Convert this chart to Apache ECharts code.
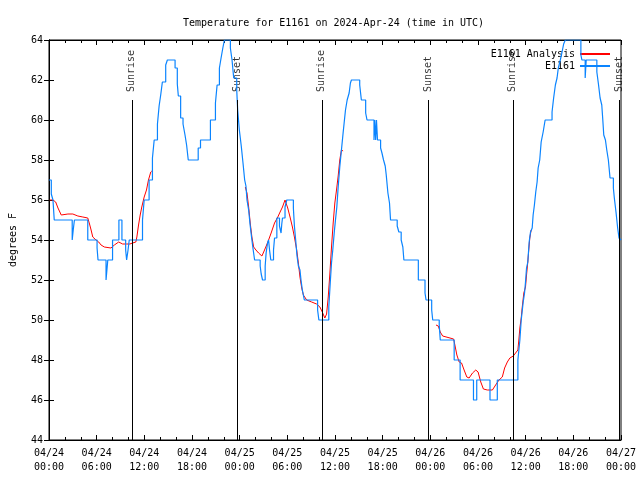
<!DOCTYPE html>
<html><head><meta charset="utf-8">
<script src="https://cdn.jsdelivr.net/npm/echarts@6/dist/echarts.min.js"></script>
<style>html,body{margin:0;padding:0;background:#fff}#c{width:640px;height:480px}</style>
</head><body><div id="c"></div><script>
// Hours since 2024-04-24 00:00 UTC
const blueTimes = [0.0,0.29,0.5,0.66,2.92,3.05,3.2,4.88,6.05,6.17,7.18,7.4,8.0,8.8,9.18,9.65,9.77,9.95,10.1,11.77,11.98,12.6,13.02,13.24,13.65,13.86,14.06,14.27,14.69,14.9,15.87,16.15,16.28,16.57,16.87,17.12,17.32,17.53,18.78,19.07,20.32,20.95,21.16,21.45,21.66,21.88,22.08,22.83,23.04,23.25,23.63,23.75,23.96,24.2,24.42,24.63,24.79,24.92,25.13,25.33,25.54,25.67,25.88,26.58,26.71,26.88,27.21,27.33,27.51,27.64,27.76,27.92,28.26,28.39,28.68,29.01,29.21,29.3,29.39,29.71,29.93,30.76,30.89,31.05,31.22,31.39,31.59,31.72,31.89,32.14,33.81,33.97,35.22,35.4,35.56,35.72,35.9,36.06,36.23,36.4,36.6,36.81,37.02,37.15,37.32,37.53,37.78,37.94,38.07,39.11,39.32,39.86,40.03,40.91,41.0,41.12,41.22,41.35,41.74,41.91,42.11,42.32,42.45,42.66,42.86,42.99,43.83,44.04,44.33,44.54,44.67,46.49,47.33,47.46,48.17,48.3,49.12,49.25,51.0,51.75,53.43,53.84,55.51,56.43,59.02,59.27,59.44,59.69,59.86,59.98,60.11,60.27,60.44,60.61,60.82,60.94,61.1,61.27,61.44,61.57,61.77,61.95,62.2,62.45,63.32,63.52,63.74,63.95,64.11,64.36,64.58,64.78,64.99,66.95,67.08,67.49,67.62,68.96,69.16,69.37,69.58,69.71,69.83,70.04,70.21,70.41,70.62,71.04,71.16,71.37,71.58,71.75,72.0];
const blueTemps = [57,56.3,56,55,54,54.5,55,54,53.6,53,52,53,54,55,54,53.5,53,53.5,54,55,56,57,58.1,59,59.8,60.7,61.25,61.9,62.75,63,62.6,61.8,61.2,60.1,59.8,59.25,58.75,58,58.6,59,60,60.85,61.75,62.6,63.1,63.6,64,63.6,63,62.1,61.5,60.5,59.5,58.7,57.85,57,56.7,56,55.5,54.7,54,53.6,53,52.7,52.3,52,52.7,53.35,53.85,54,53.5,53,53.5,54.1,55.1,54.7,54.35,54.8,55.1,55.65,56,55.6,54.7,54,53.2,52.7,52.5,52,51.5,51,50.5,50,50.65,51.85,52.85,53.5,54.35,55,55.65,56.65,57.65,58.5,59.35,59.85,60.5,61,61.35,61.85,62,61.75,61,60.35,60,59,60,59,60,59,58.6,58.35,58,57.7,57.25,56.35,55.85,55,54.7,54.4,54,53.65,53,52,51.35,51,50.5,50,49.75,49,48,47,46,47,46,47,48,49,50,50.9,51.35,51.9,52.6,52.9,53.9,54.4,54.6,55.25,55.75,56.4,56.9,57.6,58,58.9,59.4,60,60.4,61.1,61.75,62.1,62.6,63,63.4,63.8,64,63.25,63,62.1,63,62.4,61.8,61.1,60.75,60,59.25,59,58.5,58,57.1,56.6,56.1,55.4,54.6,54.1,54];

const redTimes = [0.09,0.5,0.84,1.13,1.54,1.75,2.38,3.0,3.63,4.26,4.88,5.1,5.3,5.51,5.92,6.26,6.55,6.97,7.8,8.23,8.77,9.27,9.77,10.18,10.52,10.93,11.06,11.27,11.48,11.68,11.98,12.27,12.52,12.81,12.94,
  18.0,
  24.71,24.92,25.13,25.33,25.54,25.76,26.05,26.38,26.8,27.13,27.55,27.96,28.39,28.8,29.09,29.39,29.71,30.05,30.34,30.64,30.89,31.18,31.39,31.59,31.81,32.02,32.43,33.06,33.68,34.1,34.4,34.72,34.94,35.15,35.35,35.56,35.77,35.98,36.19,36.4,36.6,36.81,37.02,
  42.0,
  48.71,49.0,49.25,49.55,49.75,50.93,51.09,51.34,51.63,51.93,52.25,52.59,52.88,53.31,53.72,54.01,54.35,54.68,55.18,55.81,56.22,56.64,57.06,57.35,57.69,58.01,58.44,58.73,59.02,59.14,59.27,59.44,59.57,59.77,59.98,60.11,60.27,60.39,60.52,60.69];
const redTemps = [56.0,56.0,55.9,55.6,55.25,55.25,55.3,55.3,55.2,55.15,55.1,54.8,54.5,54.15,54.0,53.9,53.75,53.65,53.6,53.75,53.9,53.8,53.8,53.8,53.85,53.9,54.15,54.75,55.25,55.65,56.15,56.5,57.0,57.4,57.45,
  null,
  56.65,56.35,55.65,54.85,54.15,53.65,53.5,53.35,53.2,53.5,53.9,54.35,54.85,55.15,55.4,55.65,56.0,55.6,55.15,54.65,54.15,53.5,52.85,52.15,51.6,51.25,51.0,50.9,50.8,50.65,50.4,50.1,50.3,51.15,52.3,53.65,54.85,55.85,56.5,57.2,58.0,58.5,58.45,
  null,
  49.75,49.7,49.4,49.2,49.1,49.05,48.75,48.25,47.9,47.85,47.5,47.15,47.1,47.35,47.5,47.4,46.9,46.55,46.5,46.5,46.75,47.0,47.15,47.6,47.9,48.1,48.2,48.35,48.5,49.0,49.6,50.1,50.65,51.35,51.65,52.25,52.9,53.5,54.1,54.5];

const sunTimes = [10.43,23.71,34.35,47.75,58.39,71.79];
const sunLabels = ['Sunrise','Sunset','Sunrise','Sunset','Sunrise','Sunset'];
const xTickLabels = ['04/24\n00:00','04/24\n06:00','04/24\n12:00','04/24\n18:00','04/25\n00:00','04/25\n06:00','04/25\n12:00','04/25\n18:00','04/26\n00:00','04/26\n06:00','04/26\n12:00','04/26\n18:00','04/27\n00:00'];

const FONT = 'DejaVu Sans Mono';
const blueData = blueTimes.map((t,i)=>[t, blueTemps[i]]);
const redData = redTimes.map((t,i)=>[t, redTemps[i]===null ? '-' : redTemps[i]]);

const xBase = {
  type:'value', min:0, max:72, interval:6,
  axisLine:{show:true, lineStyle:{color:'#000', width:1}},
  axisTick:{show:true, inside:true, length:5, lineStyle:{color:'#000'}},
  minorTick:{show:true, splitNumber:3, length:3, lineStyle:{color:'#000'}},
  splitLine:{show:false}, minorSplitLine:{show:false}
};
const yBase = {
  type:'value', min:44, max:64, interval:2,
  axisLine:{show:true, lineStyle:{color:'#000', width:1}},
  axisTick:{show:true, inside:true, length:5, lineStyle:{color:'#000'}},
  splitLine:{show:false}
};

const chart = echarts.init(document.getElementById('c'), null, {renderer:'canvas'});
chart.setOption({
  animation:false,
  backgroundColor:'#fff',
  textStyle:{fontFamily:FONT},
  title:{text:'Temperature for E1161 on 2024-Apr-24 (time in UTC)', left:178, top:13,
    textStyle:{fontFamily:FONT, fontSize:10, fontWeight:'normal', color:'#000'}},
  grid:{left:46, right:19, top:40, bottom:40, show:true, borderColor:'#000', borderWidth:1, backgroundColor:'transparent'},
  legend:{right:24, top:44, orient:'vertical', align:'right', itemWidth:30, itemHeight:10, itemGap:2,
    itemStyle:{opacity:0, borderWidth:0},
    textStyle:{fontFamily:FONT, fontSize:10, color:'#000'}, data:['E1161 Analysis','E1161']},
  xAxis:[
    Object.assign({}, xBase, {position:'bottom',
      axisLabel:{show:true, margin:6, color:'#000', fontFamily:FONT, fontSize:10, lineHeight:14,
        formatter:(v)=>xTickLabels[Math.round(v/6)]}}),
    Object.assign({}, xBase, {position:'top', axisLabel:{show:false}})
  ],
  yAxis:[
    Object.assign({}, yBase, {position:'left', name:'degrees F', nameLocation:'middle', nameGap:31,
      nameTextStyle:{fontFamily:FONT, fontSize:10, color:'#000'},
      axisLabel:{show:true, margin:6, color:'#000', fontFamily:FONT, fontSize:10}}),
    Object.assign({}, yBase, {position:'right', axisLabel:{show:false}})
  ],
  series:[
    {
      name:'E1161 Analysis', type:'line', data:redData, xAxisIndex:0, yAxisIndex:0,
      showSymbol:false, symbol:'none', connectNulls:false, z:3,
      lineStyle:{color:'#ff0000', width:1}, itemStyle:{color:'#ff0000'}
    },
    {
      name:'E1161', type:'line', step:'end', data:blueData, xAxisIndex:0, yAxisIndex:0,
      showSymbol:false, symbol:'none', z:4,
      lineStyle:{color:'#0a84ff', width:1.2}, itemStyle:{color:'#0a84ff'}
    },
    {
      name:'sun', type:'scatter', xAxisIndex:0, yAxisIndex:0, symbolSize:0, silent:true, z:2,
      clip:false,
      data:sunTimes.map((t,i)=>({value:[t,61.4], label:{formatter:sunLabels[i]}})),
      label:{show:true, position:[0,0], rotate:90, align:'left', verticalAlign:'middle',
        fontFamily:FONT, fontSize:10, color:'#000'},
      markLine:{silent:true, symbol:['none','none'], animation:false,
        label:{show:false},
        lineStyle:{color:'#000', width:1, type:'solid'},
        data:sunTimes.map(t=>[{coord:[t,44]},{coord:[t,61]}])}
    }
  ]
});
</script></body></html>
